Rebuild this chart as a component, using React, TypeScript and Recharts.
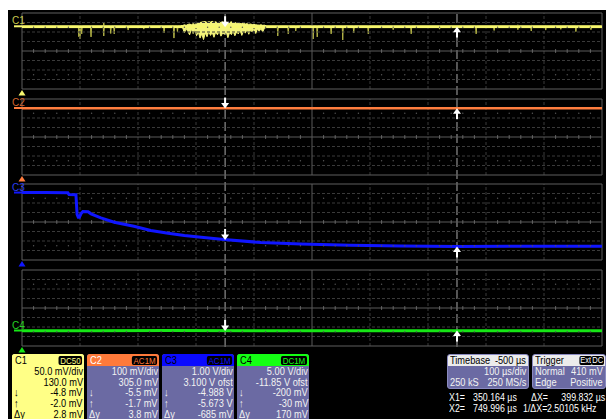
import React from 'react';
import { ComposedChart, Line, Area, XAxis, YAxis, ReferenceLine, ReferenceDot } from 'recharts';

const FONT = "'Liberation Sans', Arial, sans-serif";
const SQUEEZE = 'scaleX(0.84)';

// horizontal: 10 div x 100 us/div
const timeDomain: [number, number] = [0, 1000];
const majorTimes = [100, 200, 300, 400, 600, 700, 800, 900];
const cursorX1 = 350.164;
const cursorX2 = 749.996;

// channel settings (mV for C1/C2, V for C3/C4)
const chNames = ['C1', 'C2', 'C3', 'C4'];
const chScale = [50, 100, 1, 5];
const chOffset = [130, 305, 3.1, -11.85];
const chColor = ['#f6f66e', '#ff7d3e', '#1016ff', '#16e616'];
const chLabelColor = ['#c9c94e', '#d2642e', '#2b3df2', '#25d025'];
const cursorDown = [-4.8, -5.5, -4.988, -0.2];
const cursorUp = [-2.0, -1.7, -5.673, -0.03];

// C1 isolated glitches [t us, low mV, high mV]
const c1Glitches: [number, number, number][] = [
  [98, -55, 4], [100, -67, 5], [103, -40, 3], [119, -56, 3], [141, -51, 19], [153, -38, 3],
  [159, -40, 6], [183, -20, 3], [210, -15, 3], [245, -35, 4], [262, -62, 5], [268, -30, 3],
  [441, -51, 4], [459, -40, 3], [472, -25, 3], [502, -67, 4], [509, -56, 3], [533, -40, 3],
  [553, -72, 4], [572, -35, 3], [597, -40, 3], [640, -18, 3], [671, -40, 4], [720, -15, 3],
  [783, -40, 3], [814, -22, 6], [855, -18, 8], [878, -25, 5], [903, -20, 7], [929, -16, 6],
  [955, -28, 5], [981, -18, 6],
];
// C1 noise burst around the left cursor [t us, low mV, high mV]
const c1Burst: [number, number, number][] = [
  [274, -6, 3], [277, -8, 4], [280, -35, 8], [283, -12, 5], [286, -28, 10], [289, -45, 12],
  [292, -15, 8], [295, -38, 14], [298, -22, 10], [301, -50, 16], [304, -30, 18], [307, -62, 20],
  [310, -40, 22], [313, -70, 24], [316, -35, 25], [319, -55, 20], [322, -28, 24], [325, -48, 22],
  [328, -33, 26], [331, -58, 20], [334, -30, 24], [337, -45, 18], [340, -25, 22], [343, -52, 20],
  [346, -35, 24], [349, -42, 19], [352, -28, 22], [355, -60, 18], [358, -32, 20], [361, -44, 24],
  [364, -26, 18], [367, -50, 20], [370, -30, 16], [373, -40, 18], [376, -22, 15], [379, -48, 14],
  [382, -25, 16], [385, -36, 12], [388, -18, 14], [391, -42, 10], [394, -20, 12], [397, -30, 9],
  [400, -15, 10], [403, -38, 8], [406, -14, 7], [409, -26, 6], [412, -12, 8], [415, -30, 5],
  [418, -10, 6], [421, -6, 3],
];
const c1Level = -2;
const c2Trace: [number, number][] = [[0, -3], [250, -3], [500, -3], [750, -3], [1000, -3]];
const c3Trace: [number, number][] = [
  [0, 0.0], [40, 0.0], [79, -0.03], [81, -0.2], [93, -0.22], [95, -2.3], [97, -2.6], [99, -2.6],
  [102, -2.2], [105, -2.0], [114, -2.02], [119, -2.24], [136, -2.66], [159, -3.12], [193, -3.54],
  [222, -4.0], [252, -4.28], [280, -4.52], [309, -4.7], [348, -4.95], [412, -5.26], [481, -5.42],
  [567, -5.55], [653, -5.62], [750, -5.67], [850, -5.66], [1000, -5.64],
];
const c4Trace: [number, number][] = [
  [0, -0.1], [120, -0.15], [250, -0.05], [400, -0.12], [560, -0.08], [700, -0.14], [850, -0.06], [1000, -0.1],
];

// readout boxes
const chBadge = ['DC50', 'AC1M', 'AC1M', 'DC1M'];
const chRows: [string, string][][] = [
  [['', '50.0 mV/div'], ['', '130.0 mV'], ['↓', '-4.8 mV'], ['↑', '-2.0 mV'], ['Δy', '2.8 mV']],
  [['', '100 mV/div'], ['', '305.0 mV'], ['↓', '-5.5 mV'], ['↑', '-1.7 mV'], ['Δy', '3.8 mV']],
  [['', '1.00 V/div'], ['', '3.100 V ofst'], ['↓', '-4.988 V'], ['↑', '-5.673 V'], ['Δy', '-685 mV']],
  [['', '5.00 V/div'], ['', '-11.85 V ofst'], ['↓', '-200 mV'], ['↑', '-30 mV'], ['Δy', '170 mV']],
];
const headColor = ['#ffff86', '#ff7a3a', '#0a0aff', '#14ff14'];
const headText = ['#000', '#fff', '#000', '#000'];
const bodyColor = ['#ffff86', '#6b6aa3', '#6b6aa3', '#6b6aa3'];
const bodyText = ['#000', '#f2f2f2', '#f2f2f2', '#f2f2f2'];
const timebaseRows: [string, string][] = [['Timebase', '-500 µs'], ['', '100 µs/div'], ['250 kS', '250 MS/s']];
const triggerRows: [string, string][] = [['Trigger', ''], ['Normal', '410 mV'], ['Edge', 'Positive']];

const PLOT_LEFT = 13;
const PLOT_W = 580;
const PLOT_H = 76;
const panelTops = [2, 88, 173, 259];
const M = { top: 2, right: 2, bottom: 9, left: 16 };
const PURPLE = '#6b6aa3';

const minorTimes: number[] = [];
for (let d = 0; d < 10; d++) for (let m = 1; m < 5; m++) minorTimes.push(d * 100 + m * 20);

const c1Noise = (() => {
  const base: [number, number] = [-7, 3];
  const pts: { t: number; v: [number, number] }[] = [{ t: 0, v: base }, { t: 1000, v: base }];
  c1Glitches.forEach(([t, lo, hi]) => {
    pts.push({ t: t - 0.8, v: base }, { t, v: [lo, hi] }, { t: t + 0.8, v: base });
  });
  pts.sort((a, b) => a.t - b.t);
  return pts;
})();
const c1BurstData = c1Burst.map(([t, lo, hi]) => ({ t, v: [lo, hi] }));
const c1LineData = [{ t: 0, v: c1Level }, { t: 1000, v: c1Level }];
const toPts = (a: [number, number][]) => a.map(([t, v]) => ({ t, v }));

function gridLines(i: number) {
  const s = chScale[i];
  const c = -chOffset[i];
  const lo = c - 4 * s;
  const hi = c + 4 * s;
  const els: React.ReactNode[] = [];
  [-3, -2, -1, 1, 2, 3].forEach((k) =>
    els.push(<ReferenceLine key={'h' + k} y={c + k * s} stroke="#3a3a3a" strokeDasharray="3 2" />)
  );
  majorTimes.forEach((t) =>
    els.push(<ReferenceLine key={'v' + t} x={t} stroke="#3a3a3a" strokeDasharray="3 2" />)
  );
  els.push(<ReferenceLine key="hc" y={c} stroke="#5a5a5a" />);
  els.push(<ReferenceLine key="vc" x={500} stroke="#5a5a5a" />);
  minorTimes.forEach((t) =>
    els.push(
      <ReferenceLine key={'mt' + t} segment={[{ x: t, y: c - 0.2 * s }, { x: t, y: c + 0.2 * s }]} stroke="#666" />
    )
  );
  [2.5, -2.5].forEach((k) =>
    minorTimes.forEach((t) =>
      els.push(
        <ReferenceDot key={'d' + k + t} x={t} y={c + k * s} r={0.7} fill="#555" stroke="none" />
      )
    )
  );
  els.push(<ReferenceLine key="bt" y={hi} stroke="#5e5e5e" />);
  els.push(<ReferenceLine key="bb" y={lo} stroke="#5e5e5e" />);
  els.push(<ReferenceLine key="bl" x={0} stroke="#5e5e5e" />);
  els.push(<ReferenceLine key="br" x={1000} stroke="#5e5e5e" />);
  return els;
}

const downArrow = (p: any) => (
  <g>
    <rect x={p.cx - 1} y={p.cy - 11} width={2} height={6} fill="#fff" />
    <polygon points={`${p.cx - 4},${p.cy - 5.5} ${p.cx + 4},${p.cy - 5.5} ${p.cx},${p.cy}`} fill="#fff" />
  </g>
);
const upArrow = (p: any) => (
  <g>
    <rect x={p.cx - 1} y={p.cy + 5} width={2} height={6} fill="#fff" />
    <polygon points={`${p.cx - 4},${p.cy + 5.5} ${p.cx + 4},${p.cy + 5.5} ${p.cx},${p.cy}`} fill="#fff" />
  </g>
);

function renderPanel(i: number) {
  const s = chScale[i];
  const c = -chOffset[i];
  const lo = c - 4 * s;
  const hi = c + 4 * s;
  const color = chColor[i];
  const label = (p: any) => (
    <g>
      <line x1={p.cx - 8} x2={p.cx} y1={p.cy} y2={p.cy} stroke={color} strokeWidth={2} />
      <text x={p.cx - 10} y={p.cy - 2} fill={chLabelColor[i]} fontSize={10} fontFamily={FONT}>
        {chNames[i]}
      </text>
    </g>
  );
  const tri = (p: any) => (
    <polygon points={`${p.cx},${p.cy + 1} ${p.cx - 3.5},${p.cy + 6.5} ${p.cx + 3.5},${p.cy + 6.5}`} fill={color} />
  );
  return (
    <div key={i} style={{ position: 'absolute', left: PLOT_LEFT - M.left + 0.5, top: panelTops[i] - M.top + 0.5 }}>
      <ComposedChart width={PLOT_W + M.left + M.right} height={PLOT_H + M.top + M.bottom} margin={M}>
        <XAxis type="number" dataKey="t" domain={timeDomain} hide allowDataOverflow />
        <YAxis type="number" domain={[lo, hi]} hide allowDataOverflow />
        {gridLines(i)}
        {i === 0 && (
          <Area data={c1Noise} dataKey="v" type="linear" stroke="#b4b446" strokeWidth={1} fill="#b4b446"
            fillOpacity={1} dot={false} activeDot={false} isAnimationActive={false} />
        )}
        {i === 0 && (
          <Area data={c1BurstData} dataKey="v" type="linear" stroke="#f4f47a" strokeWidth={1} fill="#f4f47a"
            fillOpacity={1} dot={false} activeDot={false} isAnimationActive={false} />
        )}
        {i === 0 && (
          <Line data={c1LineData} dataKey="v" type="linear" stroke={color} strokeWidth={2.5} dot={false}
            activeDot={false} isAnimationActive={false} />
        )}
        {i === 1 && (
          <Line data={toPts(c2Trace)} dataKey="v" type="linear" stroke={color} strokeWidth={2.5} dot={false}
            activeDot={false} isAnimationActive={false} />
        )}
        {i === 2 && (
          <Line data={toPts(c3Trace)} dataKey="v" type="linear" stroke={color} strokeWidth={3} dot={false}
            activeDot={false} isAnimationActive={false} />
        )}
        {i === 3 && (
          <Line data={toPts(c4Trace)} dataKey="v" type="linear" stroke={color} strokeWidth={3} dot={false}
            activeDot={false} isAnimationActive={false} />
        )}
        <ReferenceDot x={0} y={0} ifOverflow="visible" shape={label} />
        <ReferenceDot x={0} y={lo} ifOverflow="visible" shape={tri} />
        <ReferenceDot x={cursorX1} y={cursorDown[i]} ifOverflow="visible" shape={downArrow} />
        <ReferenceDot x={cursorX2} y={cursorUp[i]} ifOverflow="visible" shape={upArrow} />
      </ComposedChart>
    </div>
  );
}

// narrow text, squeezed horizontally from the anchored side
function T({ s, side, x, top = 0, extra }: { s: string; side: 'left' | 'right'; x: number; top?: number; extra?: React.CSSProperties }) {
  return (
    <span style={{ position: 'absolute', [side]: x, top, transform: SQUEEZE, transformOrigin: side, whiteSpace: 'nowrap', ...extra }}>
      {s}
    </span>
  );
}

function ChannelBox({ i }: { i: number }) {
  return (
    <div style={{ position: 'absolute', left: 4 + i * 75, top: 344, width: 72, height: 70, background: bodyColor[i],
      borderRadius: 3, overflow: 'hidden', fontFamily: FONT, fontSize: 11, color: bodyText[i] }}>
      <div style={{ height: 12, lineHeight: '12px', background: headColor[i], color: headText[i], position: 'relative' }}>
        <T s={chNames[i]} side="left" x={3} />
        <T s={chBadge[i]} side="right" x={2} top={1.5}
          extra={{ height: 9, lineHeight: '9px', background: '#000', color: headColor[i], fontSize: 9.5, padding: '0 2px', borderRadius: 2 }} />
      </div>
      {chRows[i].map(([sym, val], k) => (
        <div key={k} style={{ height: 10.7, lineHeight: '10.7px', position: 'relative' }}>
          <T s={sym} side="left" x={2} />
          <T s={val} side="right" x={1} />
        </div>
      ))}
    </div>
  );
}

function InfoBox({ left, width, rows, badges }: { left: number; width: number; rows: [string, string][]; badges?: boolean }) {
  return (
    <div style={{ position: 'absolute', left, top: 344, width, height: 33, background: PURPLE, border: '1px solid #8a8ac0',
      borderRadius: 3, overflow: 'hidden', fontFamily: FONT, fontSize: 11 }}>
      {rows.map(([l, r], k) => (
        <div key={k} style={{ height: 11, lineHeight: '11px', position: 'relative',
          background: k === 0 ? '#ececec' : 'transparent', color: k === 0 ? '#000' : '#f2f2f2' }}>
          <T s={l} side="left" x={2} />
          <T s={r} side="right" x={2} />
          {k === 0 && badges && (
            <>
              <T s="Ext" side="right" x={13} top={1}
                extra={{ height: 9, lineHeight: '9px', fontSize: 9, background: '#000', color: '#fff', padding: '0 1px', borderRadius: 2 }} />
              <T s="DC" side="right" x={1} top={1}
                extra={{ height: 9, lineHeight: '9px', fontSize: 9, background: '#000', color: '#fff', padding: '0 1px', borderRadius: 2 }} />
            </>
          )}
        </div>
      ))}
    </div>
  );
}

export default function App() {
  const txt = { color: '#fff', lineHeight: '10px', fontSize: 10.5 };
  return (
    <div style={{ position: 'absolute', left: 8, top: 10, width: 598, height: 409, background: '#000', overflow: 'hidden',
      fontFamily: FONT, fontSize: 11 }}>
      <div style={{ position: 'absolute', left: PLOT_LEFT - 1 + 0.5, top: 1.5 }}>
        <ComposedChart width={PLOT_W + 2} height={336} margin={{ top: 1, right: 1, bottom: 1, left: 1 }}>
          <XAxis type="number" dataKey="t" domain={timeDomain} hide />
          <YAxis type="number" domain={[0, 1]} hide />
          <Line data={[{ t: 0, y: 0 }, { t: 1000, y: 0 }]} dataKey="y" stroke="none" dot={false} isAnimationActive={false} />
          <ReferenceLine x={cursorX1} stroke="#aaa" strokeDasharray="9 3" />
          <ReferenceLine x={cursorX2} stroke="#aaa" strokeDasharray="9 3" />
        </ComposedChart>
      </div>
      {[0, 1, 2, 3].map((i) => renderPanel(i))}
      {[0, 1, 2, 3].map((i) => <ChannelBox key={i} i={i} />)}
      <InfoBox left={439} width={80} rows={timebaseRows} />
      <InfoBox left={524} width={72} rows={triggerRows} badges />
      <T s="X1=" side="left" x={441} top={381.5} extra={txt} />
      <T s="350.164 µs" side="left" x={465} top={381.5} extra={txt} />
      <T s="ΔX=" side="left" x={523} top={381.5} extra={txt} />
      <T s="399.832 µs" side="right" x={1} top={381.5} extra={txt} />
      <T s="X2=" side="left" x={441} top={392.5} extra={txt} />
      <T s="749.996 µs" side="left" x={465} top={392.5} extra={txt} />
      <T s="1/ΔX=" side="left" x={515} top={392.5} extra={txt} />
      <T s="2.50105 kHz" side="left" x={539} top={392.5} extra={txt} />
    </div>
  );
}
